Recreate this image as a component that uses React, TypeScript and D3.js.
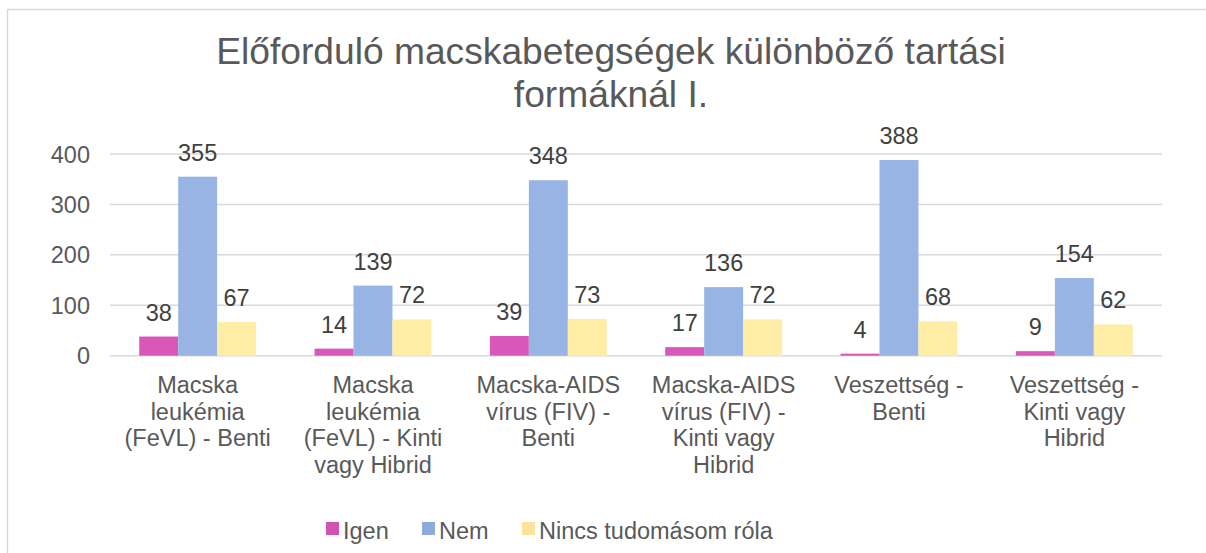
import React from "react";
import * as d3 from "d3";

const categories: string[][] = [
  ["Macska", "leukémia", "(FeVL) - Benti"],
  ["Macska", "leukémia", "(FeVL) - Kinti", "vagy Hibrid"],
  ["Macska-AIDS", "vírus (FIV) -", "Benti"],
  ["Macska-AIDS", "vírus (FIV) -", "Kinti vagy", "Hibrid"],
  ["Veszettség -", "Benti"],
  ["Veszettség -", "Kinti vagy", "Hibrid"],
];
const seriesNames = ["Igen", "Nem", "Nincs tudomásom róla"];
const igen = [38, 14, 39, 17, 4, 9];
const nem = [355, 139, 348, 136, 388, 154];
const nincs = [67, 72, 73, 72, 68, 62];
const yTicks = [0, 100, 200, 300, 400];
const titleLines = ["Előforduló macskabetegségek különböző tartási", "formáknál I."];

const colors = ["#d957b8", "#98b4e4", "#ffeca5"];
const legendColors = ["#d052b2", "#8eabdc", "#fce39a"];
const FONT = "'Liberation Sans', Arial, sans-serif";
const TXT = "#595959";
const FS = 23.5;

export default function App() {
  const W = 1206, H = 553;
  const left = 110, right = 1162, top = 154, bottom = 355.7;
  const series = [igen, nem, nincs];
  const idx = categories.map((_, i) => i);
  const x0 = d3.scaleBand<number>().domain(idx).range([left, right]).paddingInner(0).paddingOuter(0);
  const groupW = x0.bandwidth();
  const barW = groupW / 4.5;
  const y = d3.scaleLinear().domain([0, 400]).range([bottom, top]);
  const cx = (i: number) => (x0(i) as number) + groupW / 2;

  const legendX = [326, 422, 522];

  return (
    <div style={{ position: "fixed", left: 0, top: 0, width: W, height: H, overflow: "hidden", background: "#fff" }}>
      <svg width={W} height={H} style={{ display: "block" }} fontFamily={FONT}>
        <rect x={7.5} y={9.5} width={1220} height={600} fill="#fff" stroke="#d9d9d9" strokeWidth={1.5} />
        {titleLines.map((t, i) => (
          <text key={i} x={611} y={64 + i * 43} textAnchor="middle" fontSize={37.2} fill={TXT}>
            {t}
          </text>
        ))}
        {yTicks.map((t) => (
          <g key={t}>
            <line x1={left} x2={right} y1={y(t)} y2={y(t)} stroke="#d9d9d9" strokeWidth={1.5} />
            <text x={90} y={y(t) + 8.5} textAnchor="end" fontSize={FS} fill={TXT}>
              {t}
            </text>
          </g>
        ))}
        {series.map((vals, s) =>
          vals.map((v, i) => {
            const bx = cx(i) - 1.5 * barW + s * barW;
            return (
              <g key={`${s}-${i}`}>
                <rect x={bx} y={y(v)} width={barW} height={y(0) - y(v)} fill={colors[s]} />
                <text x={bx + barW / 2} y={y(v) - 16} textAnchor="middle" fontSize={FS} fill="#404040">
                  {v}
                </text>
              </g>
            );
          })
        )}
        {categories.map((lines, i) => (
          <text key={i} textAnchor="middle" fontSize={FS} fill={TXT}>
            {lines.map((l, j) => (
              <tspan key={j} x={cx(i)} y={393 + j * 26.7}>
                {l}
              </tspan>
            ))}
          </text>
        ))}
        {seriesNames.map((n, s) => (
          <g key={n}>
            <rect x={legendX[s]} y={522} width={13} height={13} fill={legendColors[s]} />
            <text x={legendX[s] + 17} y={538.5} fontSize={FS} fill={TXT}>
              {n}
            </text>
          </g>
        ))}
      </svg>
    </div>
  );
}
